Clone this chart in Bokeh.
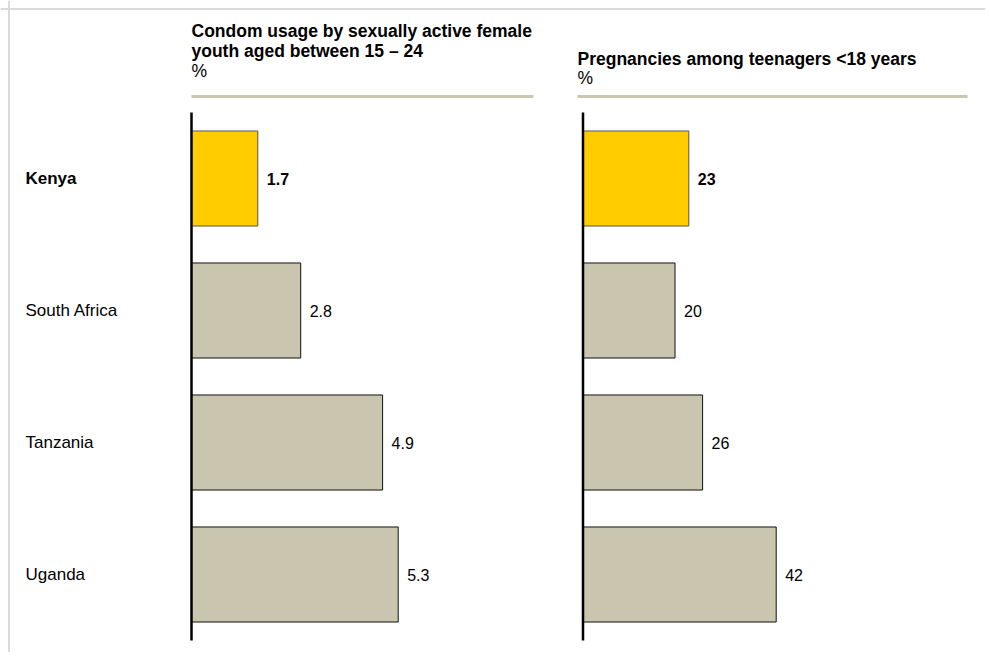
from bokeh.plotting import figure
from bokeh.models import Range1d, ColumnDataSource, Span
from bokeh.core.properties import value
from bokeh.embed import file_html
from bokeh.resources import INLINE

# ---- data ----
countries = ["Kenya", "South Africa", "Tanzania", "Uganda"]
condom_usage = [1.7, 2.8, 4.9, 5.3]
teen_pregnancies = [23, 20, 26, 42]
highlight = [True, False, False, False]
title1_lines = ["Condom usage by sexually active female", "youth aged between 15 \u2013 24", "%"]
title2_lines = ["Pregnancies among teenagers <18 years", "%"]

# ---- layout constants (canvas pixels) ----
W, H = 985, 652
ROW0, ROW_STEP = 178, 132
P1_ZERO, P1_SCALE = 191, 39.0
P2_ZERO, P2_SCALE = 582.5, 4.6
FONT = "Liberation Sans"
HL_FILL, HL_LINE = "#FFCC00", "#555555"
BAR_FILL, BAR_LINE = "#C9C5AE", "#111111"
RULE = "#C9C6B1"

def yd(cy):
    return (cy - ROW0) / ROW_STEP

def x1(cx):
    return (cx - P1_ZERO) / P1_SCALE

def x2(cx):
    return (cx - P2_ZERO) / P2_SCALE

idx = list(range(len(countries)))
styles = ["bold" if h else "normal" for h in highlight]
fills = [HL_FILL if h else BAR_FILL for h in highlight]
lines = [HL_LINE if h else BAR_LINE for h in highlight]

src = ColumnDataSource(dict(
    y=idx, country=countries, style=styles, fill=fills, line=lines,
    v1=condom_usage, v2=teen_pregnancies,
    t1=[f"{v:g}" for v in condom_usage], t2=[f"{v:g}" for v in teen_pregnancies],
    lx=[x1(25)] * len(countries),
))

p = figure(width=W, height=H, output_backend="svg", toolbar_location=None,
           x_range=Range1d(x1(0), x1(W)), y_range=Range1d(yd(H), yd(0)),
           min_border=0, x_axis_type=None, y_axis_type=None)
p.extra_x_ranges = {"p2": Range1d(x2(0), x2(W))}
p.grid.visible = False
p.outline_line_color = None
p.background_fill_color = "white"
p.border_fill_color = "white"

# frame edges (top and left)
p.add_layout(Span(location=yd(8.5), dimension="width", line_color="#DADADA", line_width=2))
p.add_layout(Span(location=x1(8.5), dimension="height", line_color="#DADADA", line_width=2))

# bars
p.hbar(y="y", left=0, right="v1", height=0.72, source=src,
       fill_color="fill", line_color="line", line_width=1)
p.hbar(y="y", left=0, right="v2", height=0.72, source=src,
       fill_color="fill", line_color="line", line_width=1, x_range_name="p2")

# baseline axes
p.segment(x0=[0], x1=[0], y0=[-0.5], y1=[len(countries) - 0.5], line_color="black", line_width=2.5)
p.segment(x0=[0], x1=[0], y0=[-0.5], y1=[len(countries) - 0.5], line_color="black", line_width=2.5,
          x_range_name="p2")

# value labels
p.text(x="v1", y="y", text="t1", source=src, x_offset=9, text_baseline="middle",
       text_font=value(FONT), text_font_size="16px", text_font_style="style", text_color="black")
p.text(x="v2", y="y", text="t2", source=src, x_offset=9, text_baseline="middle",
       text_font=value(FONT), text_font_size="16px", text_font_style="style", text_color="black",
       x_range_name="p2")

# category labels
p.text(x="lx", y="y", text="country", source=src, text_baseline="middle", text_align="left",
       text_font=value(FONT), text_font_size="17px", text_font_style="style", text_color="black")

# titles
t1_y = [30, 50, 70]
for line, cy in zip(title1_lines, t1_y):
    st = "normal" if line == "%" else "bold"
    p.text(x=[x1(191)], y=[yd(cy)], text=[line], text_baseline="middle",
           text_font=value(FONT), text_font_size="17.5px", text_font_style=st, text_color="black")
t2_y = [58, 77]
for line, cy in zip(title2_lines, t2_y):
    st = "normal" if line == "%" else "bold"
    p.text(x=[x2(577)], y=[yd(cy)], text=[line], text_baseline="middle",
           text_font=value(FONT), text_font_size="17.5px", text_font_style=st, text_color="black",
           x_range_name="p2")

# header rules
p.segment(x0=[x1(191)], x1=[x1(533)], y0=[yd(96)], y1=[yd(96)], line_color=RULE, line_width=3)
p.segment(x0=[x2(577)], x1=[x2(967)], y0=[yd(96)], y1=[yd(96)], line_color=RULE, line_width=3,
          x_range_name="p2")

open("out.html", "w").write(file_html(p, INLINE))
